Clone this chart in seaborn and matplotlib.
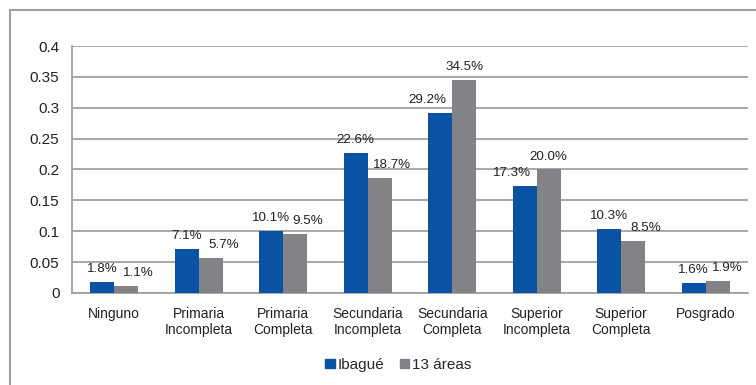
import pandas as pd
import seaborn as sns
import matplotlib.pyplot as plt
import numpy as np
from matplotlib.patches import Rectangle, Patch

categories = ["Ninguno", "Primaria\nIncompleta", "Primaria\nCompleta", "Secundaria\nIncompleta",
              "Secundaria\nCompleta", "Superior\nIncompleta", "Superior\nCompleta", "Posgrado"]
ibague = [0.018, 0.071, 0.101, 0.226, 0.292, 0.173, 0.103, 0.016]
areas13 = [0.011, 0.057, 0.095, 0.187, 0.345, 0.200, 0.085, 0.019]
series = ["Ibagué", "13 áreas"]
colors = ["#0A52A3", "#828386"]

data = pd.DataFrame({
    "cat": categories * 2,
    "val": ibague + areas13,
    "serie": [series[0]] * len(categories) + [series[1]] * len(categories),
})

sns.set_style("white")
plt.rcParams['font.family'] = ['Liberation Sans', 'DejaVu Sans']

fig = plt.figure(figsize=(7.56, 3.85), dpi=100)
ax = fig.add_axes([0.0952, 0.239, 0.894, 0.6415])

sns.barplot(data=data, x="cat", y="val", hue="serie", palette=colors, width=0.57,
            saturation=1, ax=ax, legend=False, zorder=3, linewidth=0)

ax.set_ylim(0, 0.4)
ax.set_xlim(-0.5, len(categories) - 0.5)
ax.yaxis.set_ticks(np.arange(0, 0.41, 0.05))
ax.set_yticklabels(["0", "0.05", "0.1", "0.15", "0.2", "0.25", "0.3", "0.35", "0.4"])
ax.grid(axis="y", color="#A0A0A0", lw=1.3, zorder=0)
ax.set_xlabel("")
ax.set_ylabel("")

for s in ["top", "right"]:
    ax.spines[s].set_visible(False)
for s in ["left", "bottom"]:
    ax.spines[s].set_color("#A0A0A0")
    ax.spines[s].set_linewidth(1.3)

ax.tick_params(axis="y", labelsize=11, length=4, color="#A0A0A0", width=1.3, pad=5, labelcolor="#222222")
ax.tick_params(axis="x", which="major", length=0, labelsize=10, pad=10, labelcolor="#222222")
ax.set_xticks(np.arange(-0.5, len(categories)), minor=True)
ax.tick_params(axis="x", which="minor", length=4, color="#A0A0A0", width=1.3)

# data labels, nudged like the spreadsheet does when they would collide
n = len(categories)
for i in range(n):
    b, g = ibague[i], areas13[i]
    bdx, gdx = 0, 0
    if g < b:
        gdx = 9
    elif g - b > 0.02:
        bdx = -9
    else:
        gdx = 7
    xb = ax.patches[i].get_x() + ax.patches[i].get_width() / 2
    xg = ax.patches[n + i].get_x() + ax.patches[n + i].get_width() / 2
    ax.annotate(f"{b*100:.1f}%", (xb, b), xytext=(bdx, 5), textcoords="offset points",
                ha="center", va="bottom", fontsize=9.6, color="#222222")
    ax.annotate(f"{g*100:.1f}%", (xg, g), xytext=(gdx, 5), textcoords="offset points",
                ha="center", va="bottom", fontsize=9.6, color="#222222")

handles = [Patch(color=c) for c in colors]
fig.legend(handles, series, loc="center", bbox_to_anchor=(0.527, 0.052), ncol=2, frameon=False,
           fontsize=11, handlelength=0.6, handleheight=0.6, handletextpad=0.2, columnspacing=1.0)

fig.patches.append(Rectangle((9.5 / 756, -0.05), 1.0, 0.974 + 0.05, transform=fig.transFigure,
                             fill=False, edgecolor="#A0A0A0", lw=1.5, clip_on=False))

fig.savefig("out.png", dpi=100)
